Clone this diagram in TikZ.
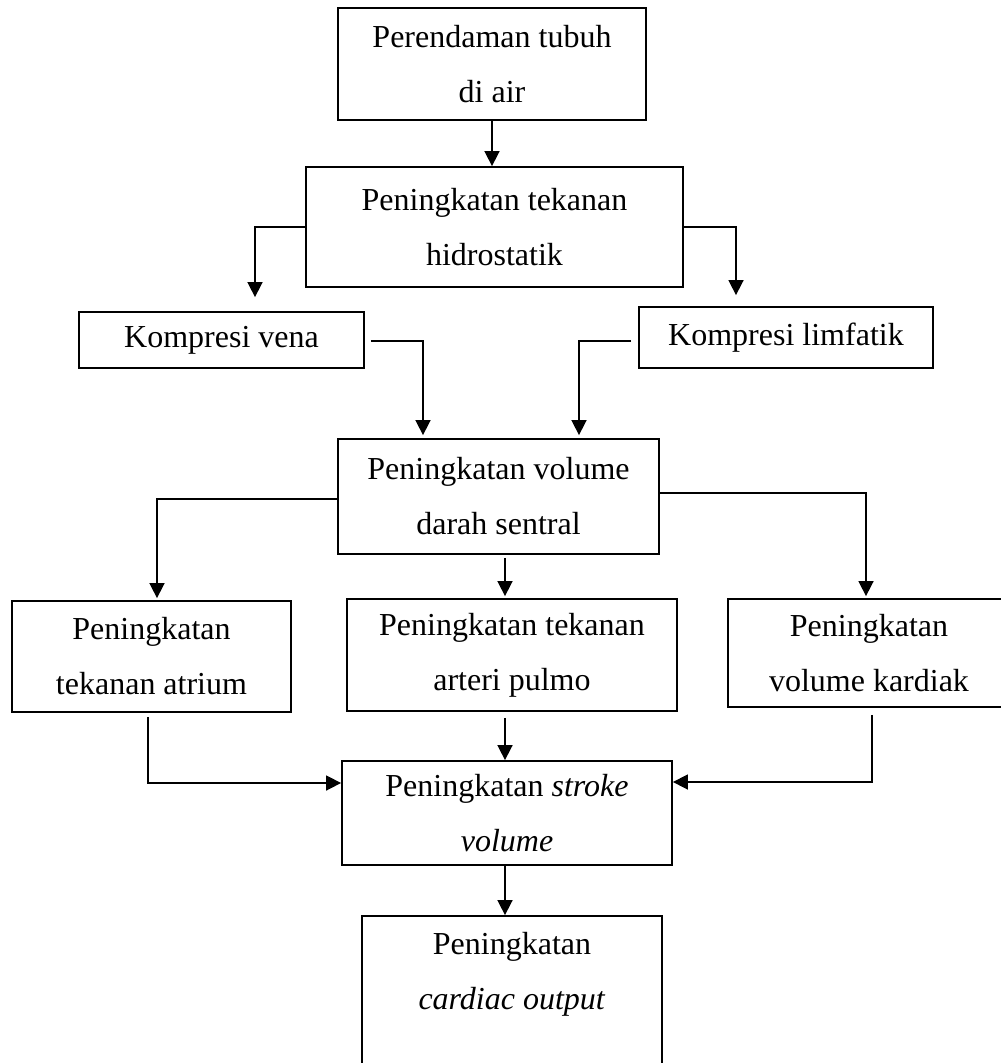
\documentclass[tikz,border=0pt]{standalone}
\usepackage{fontspec}
\setmainfont{Liberation Serif}
\usepackage{tikz}
\usetikzlibrary{arrows.meta, positioning}

\begin{document}
\begin{tikzpicture}[x=1pt, y=-1pt,
  box/.style={draw, line width=1.8pt, rectangle, inner sep=0pt, align=center,
              font=\fontsize{32pt}{55pt}\selectfont},
  arr/.style={line width=1.6pt, -{Triangle[length=15pt, width=15pt]}},
]
\useasboundingbox (0,0) rectangle (1001,1063);

% top
\node[box, minimum width=308pt, minimum height=112pt] (rendam) at (492,64)
      {Perendaman tubuh\\di air};
\node[box, minimum width=377pt, minimum height=120pt] (hidro) at (494.5,227)
      {Peningkatan tekanan\\hidrostatik};

% kompresi
\node[box, minimum width=285pt, minimum height=56pt] (vena) at (221.5,340)
      {Kompresi vena};
\node[box, minimum width=294pt, minimum height=61pt] (limfa) at (786,337.5)
      {Kompresi limfatik};

% sentral
\node[box, minimum width=321pt, minimum height=115pt] (sentral) at (498.5,496.5)
      {Peningkatan volume\\darah sentral};

% three effects
\node[box, minimum width=279pt, minimum height=111pt] (atrium) at (151.5,656.5)
      {Peningkatan\\tekanan atrium};
\node[box, minimum width=330pt, minimum height=112pt] (pulmo) at (512,655)
      {Peningkatan tekanan\\arteri pulmo};
\node[box, minimum width=282pt, minimum height=108pt] (kardiak) at (869,653)
      {Peningkatan\\volume kardiak};

% bottom
\node[box, minimum width=330pt, minimum height=104pt] (stroke) at (507,813)
      {Peningkatan \textit{stroke}\\\textit{volume}};
\node[box, minimum width=300pt, minimum height=182pt] (output) at (512,1007)
      {Peningkatan\\\textit{cardiac output}\\\strut};

% connectors
\draw[arr] (rendam.south) -- (rendam.south |- hidro.north);
\draw[arr] (hidro.west) -| ([xshift=33.5pt, yshift=14pt]vena.north);
\draw[arr] (hidro.east) -| ([xshift=-50pt, yshift=11pt]limfa.north);
\draw[arr, shorten <=6pt] ([yshift=-1pt]vena.east) -| ([xshift=-75.5pt, yshift=3pt]sentral.north);
\draw[arr, shorten <=7pt] ([yshift=-3.5pt]limfa.west) -| ([xshift=80.5pt, yshift=3pt]sentral.north);
\draw[arr] ([yshift=-2.5pt]sentral.west) -| ([xshift=5.5pt, yshift=2pt]atrium.north);
\draw[arr] ([yshift=3.5pt]sentral.east) -| ([xshift=-3pt, yshift=2pt]kardiak.north);
\draw[arr, shorten <=3pt] ([xshift=6.5pt]sentral.south) -- ([xshift=-7pt, yshift=2pt]pulmo.north);
\draw[arr, shorten <=4pt] ([xshift=-3.5pt]atrium.south) |- ([yshift=30pt]stroke.west);
\draw[arr, shorten <=6pt] ([xshift=-7pt]pulmo.south) -- ([xshift=-2pt]stroke.north);
\draw[arr, shorten <=7pt] ([xshift=3pt]kardiak.south) |- ([yshift=31pt]stroke.east);
\draw[arr] ([xshift=-2pt]stroke.south) -- ([xshift=-7pt]output.north);
\end{tikzpicture}
\end{document}
